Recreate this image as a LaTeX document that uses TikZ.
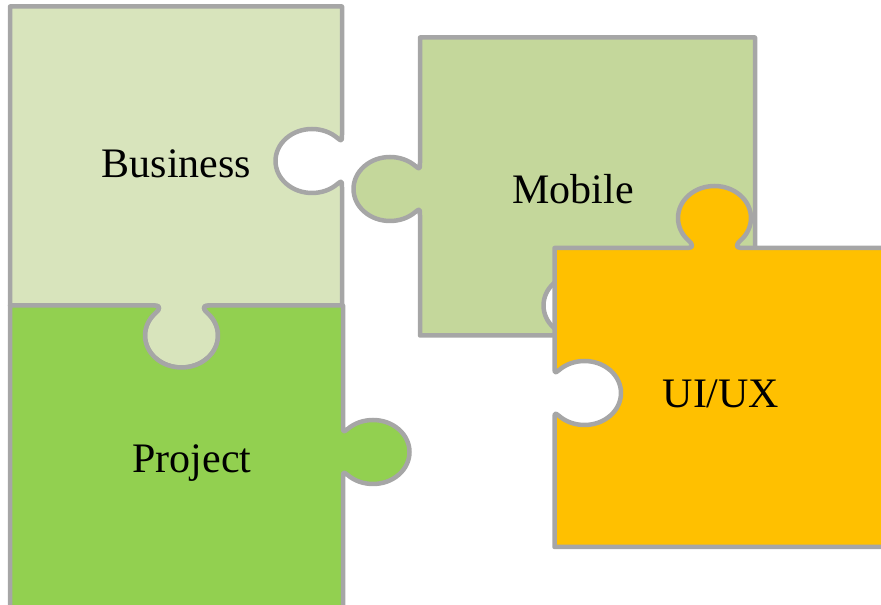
\documentclass[tikz,border=0pt]{standalone}
\usepackage{fontspec}
\setmainfont{Liberation Serif}
\usetikzlibrary{calc}

\definecolor{businessfill}{HTML}{D8E4BC}
\definecolor{mobilefill}{HTML}{C4D79B}
\definecolor{projectfill}{HTML}{92D050}
\definecolor{uxfill}{HTML}{FFC000}
\definecolor{pieceline}{HTML}{A6A6A6}

% knob on an edge: #1 point on the edge, #2 direction of the bulb,
% #3 = -1 for a tab, 1 for a hole (pieces are drawn clockwise)
\newcommand{\knob}[3]{%
  -- ($(#1)+({#2+#3*90+180}:27)$)
  .. controls ($(#1)+({#2+#3*90+180}:21)$)
     and ($(#1)+(#2:30)+({#2+180+#3*45}:36.5 and 32)+({#2+#3*135}:6.4 and 5.6)$)
  .. ($(#1)+(#2:30)+({#2+180+#3*45}:36.5 and 32)$)
  arc[start angle={#2+180+#3*45}, end angle={#2+180+#3*315}, x radius=36.5, y radius=32]
  .. controls ($(#1)+(#2:30)+({#2+180-#3*45}:36.5 and 32)+({#2+180+#3*45}:6.4 and 5.6)$)
     and ($(#1)+({#2+#3*90}:21)$)
  .. ($(#1)+({#2+#3*90}:27)$)
}

\tikzset{
  piece/.style={draw=pieceline, line width=4.5pt, line join=round},
  piecetext/.style={anchor=base, font=\fontsize{42}{50}\selectfont}
}

\begin{document}
\begin{tikzpicture}[x=1pt,y=1pt]
  \useasboundingbox (0,0) rectangle (881,605);
  \clip (0,0) rectangle (881,605);

  % edge points of the knobs
  \coordinate (bizhole) at (342,444);
  \coordinate (biztab) at (181.5,299.5);
  \coordinate (projtab) at (343,153);
  \coordinate (mobtab) at (420,416);
  \coordinate (mobhole) at (580,269.5);
  \coordinate (uxtab) at (714.5,357);
  \coordinate (uxhole) at (554.5,212);

  % pieces
  \draw [piece, fill=businessfill] (10,598.5) -- (342,598.5) \knob{bizhole}{180}{1}
    -- (342,299.5) \knob{biztab}{-90}{-1} -- (10,299.5) -- cycle;
  \draw [piece, fill=projectfill] (10,299.5) \knob{biztab}{-90}{1} -- (343,299.5)
    \knob{projtab}{0}{-1} -- (343,-10) -- (10,-10) -- cycle;
  \draw [piece, fill=mobilefill] (420,567.5) -- (755,567.5) -- (755,269.5)
    \knob{mobhole}{90}{1} -- (420,269.5) \knob{mobtab}{180}{-1} -- cycle;
  \draw [piece, fill=uxfill] (554.5,357) \knob{uxtab}{90}{-1} -- (890,357)
    -- (890,58) -- (554.5,58) \knob{uxhole}{0}{1} -- cycle;

  \node [piecetext] (business) at (176.5,427) {Business};
  \node [piecetext] (mobile) at (573,401) {Mobile};
  \node [piecetext] (project) at (192,132) {Project};
  \node [piecetext] (uiux) at (721,197) {UI/UX};
\end{tikzpicture}
\end{document}
